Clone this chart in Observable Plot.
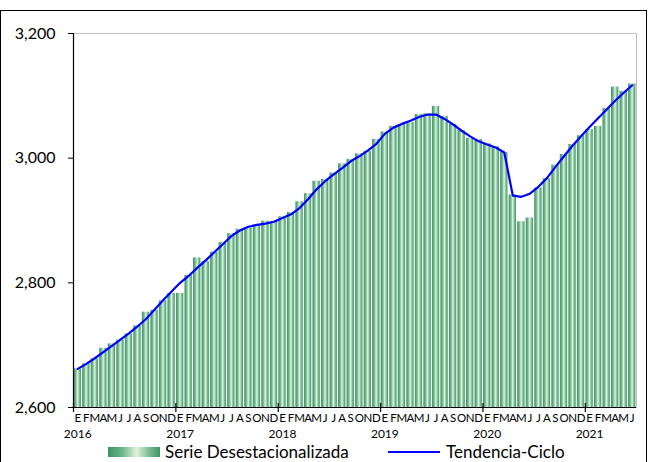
<!DOCTYPE html>
<html>
<head>
<meta charset="utf-8">
<script src="https://cdn.jsdelivr.net/npm/d3@7"></script>
<script src="https://cdn.jsdelivr.net/npm/@observablehq/plot@0.6"></script>
<style>
  html, body { margin: 0; padding: 0; background: #fff; width: 648px; height: 462px; overflow: hidden; font-family: Lato, "Open Sans", sans-serif; }
  #frame { position: absolute; left: 0; top: 10px; width: 645px; height: 460px; border: 1px solid #000; pointer-events: none; }
  #chart { position: absolute; left: 0; top: 0; }
  #legend { position: absolute; left: 0; top: 445px; width: 648px; height: 17px; font-size: 17px; color: #000; }
  .sw1 { position: absolute; left: 108px; top: 2px; width: 52px; height: 10px;
         background: linear-gradient(to right, #3a9466 0%, #6db68c 28%, #e3f1de 55%, #7fbf97 78%, #3a9466 100%); }
  .t1 { position: absolute; left: 165px; top: 0px; line-height: 14px; white-space: nowrap; }
  .sw2 { position: absolute; left: 388px; top: 6px; width: 52px; height: 2px; background: #0000ff; }
  .t2 { position: absolute; left: 446px; top: 0px; line-height: 14px; white-space: nowrap; }
</style>
</head>
<body>
<div id="frame"></div>
<div id="chart"></div>
<div id="legend">
  <div class="sw1"></div><div class="t1">Serie Desestacionalizada</div>
  <div class="sw2"></div><div class="t2">Tendencia-Ciclo</div>
</div>
<script>
const meses = ["E","F","M","A","M","J","J","A","S","O","N","D"];
const anios = [2016, 2017, 2018, 2019, 2020, 2021];
const yTicks = [2600, 2800, 3000, 3200];

const serie = [
  2662, 2670, 2678, 2695, 2702, 2708, 2718, 2731, 2753, 2756, 2771, 2783,
  2783, 2812, 2840, 2834, 2849, 2865, 2879, 2886, 2888, 2893, 2899, 2898,
  2906, 2913, 2930, 2943, 2963, 2966, 2976, 2991, 2998, 3007, 3011, 3030,
  3042, 3051, 3054, 3057, 3070, 3071, 3083, 3067, 3054, 3044, 3032, 3030,
  3023, 3018, 3009, 2941, 2898, 2904, 2952, 2967, 2989, 3006, 3022, 3036,
  3046, 3051, 3080, 3114, 3107, 3119
];
const tendencia = [
  2662, 2670, 2679, 2689, 2699, 2709, 2719, 2730, 2742, 2757, 2772, 2786,
  2800, 2811, 2824, 2836, 2849, 2862, 2875, 2884, 2890, 2893, 2895, 2898,
  2904, 2910, 2920, 2934, 2950, 2963, 2974, 2984, 2995, 3003, 3012, 3023,
  3039, 3049, 3055, 3060, 3066, 3070, 3070, 3063, 3054, 3044, 3035, 3027,
  3022, 3017, 3009, 2940, 2938, 2943, 2954, 2968, 2986, 3003, 3020, 3035,
  3050, 3064, 3078, 3092, 3105, 3117
];

const data = serie.map((v, i) => ({
  i, serie: v, tend: tendencia[i], mes: meses[i % 12], anio: anios[Math.floor(i / 12)]
}));
const n = data.length;
const yMin = yTicks[0], yMax = yTicks[yTicks.length - 1];
const eneros = data.filter(d => d.i % 12 === 0);

const chart = Plot.plot({
  width: 648,
  height: 442,
  marginLeft: 73,
  marginRight: 12,
  marginTop: 33,
  marginBottom: 35,
  style: { fontFamily: "Lato, 'Open Sans', sans-serif", color: "#000", background: "transparent", overflow: "visible" },
  x: { domain: [0, n], axis: null },
  y: { domain: [yMin, yMax] },
  marks: [
    Plot.frame({ stroke: "#bfbfbf" }),
    Plot.rect(data, {
      x1: "i", x2: d => d.i + 1, y1: yMin, y2: "serie",
      fill: "url(#barGrad)", insetLeft: 0.6, insetRight: 0.6
    }),
    Plot.line(data, { x: d => d.i + 0.5, y: "tend", stroke: "#0000ff", strokeWidth: 2.2, curve: "linear" }),
    Plot.ruleX([0], { stroke: "#000", strokeWidth: 1.2 }),
    Plot.ruleY([yMin], { stroke: "#000", strokeWidth: 1.2 }),
    Plot.ruleX(eneros, { x: "i", y1: yMin, y2: yMin, insetTop: -4, insetBottom: -5, stroke: "#000", strokeWidth: 1.2 }),
    Plot.axisY({ ticks: yTicks, tickFormat: d3.format(","), tickSize: 5, tickPadding: 13, fontSize: 16, stroke: "#000", fill: "#000" }),
    Plot.text(data, { x: d => d.i + 0.5, y: yMin, text: "mes", dy: 10.5, lineAnchor: "middle", fontSize: 11.5, fill: "#000" }),
    Plot.text(eneros, { x: d => d.i + 0.5, y: yMin, text: d => String(d.anio), dy: 27, lineAnchor: "middle", fontSize: 12, fill: "#000" })
  ]
});

// gradient definition for the bars (per-bar bounding box)
const svgNS = "http://www.w3.org/2000/svg";
const defs = document.createElementNS(svgNS, "defs");
defs.innerHTML = `<linearGradient id="barGrad" x1="0" y1="0" x2="1" y2="0">
  <stop offset="0" stop-color="#3a9466"/>
  <stop offset="0.28" stop-color="#6db68c"/>
  <stop offset="0.55" stop-color="#e3f1de"/>
  <stop offset="0.78" stop-color="#7fbf97"/>
  <stop offset="1" stop-color="#3a9466"/>
</linearGradient>`;
chart.insertBefore(defs, chart.firstChild);
document.getElementById("chart").appendChild(chart);
</script>
</body>
</html>
